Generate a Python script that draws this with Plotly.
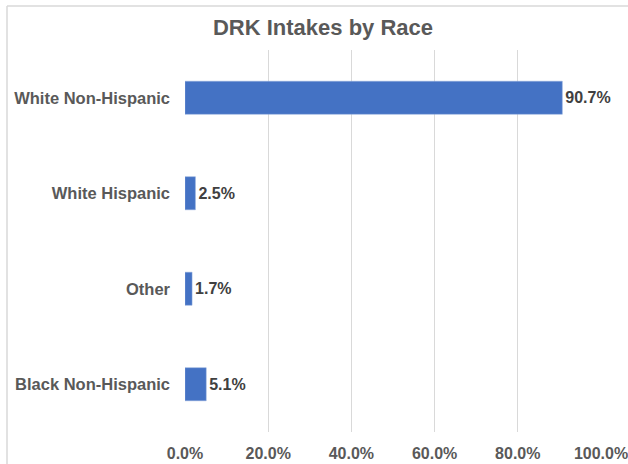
import plotly.graph_objects as go

categories = ["White Non-Hispanic", "White Hispanic", "Other", "Black Non-Hispanic"]
values = [90.7, 2.5, 1.7, 5.1]
tick_vals = [0, 20, 40, 60, 80, 100]
tick_text = ["0.0%", "20.0%", "40.0%", "60.0%", "80.0%", "100.0%"]

FONT = "Liberation Sans"
L, R, T, B = 185, 27, 50, 32
PW, PH = 628 - L - R, 464 - T - B

fig = go.Figure(go.Bar(
    x=values, y=categories, orientation="h",
    marker=dict(color="#4472C4", line=dict(color="#8FAADC", width=0.5)),
    width=0.346,
    text=[f"{v:.1f}%" for v in values], textposition="outside",
    texttemplate="<b>%{x:.1f}%</b>",
    textfont=dict(family=FONT, size=16, color="#404040"),
    cliponaxis=False,
))

fig.update_layout(
    width=628, height=464,
    margin=dict(l=L, r=R, t=T, b=B, autoexpand=False),
    paper_bgcolor="white", plot_bgcolor="white",
    font=dict(family=FONT, color="#595959"),
    title=dict(text="<b>DRK Intakes by Race</b>", x=323 / 628, xref="container", xanchor="center",
               y=1 - 27 / 464, yref="container", yanchor="middle",
               font=dict(size=22, color="#595959", family=FONT)),
    showlegend=False,
    shapes=[
        dict(type="line", xref="paper", yref="paper",
             x0=-(L - 7) / PW, x1=1 + R / PW, y0=1 + (T - 6) / PH, y1=1 + (T - 6) / PH,
             line=dict(color="#D9D9D9", width=1.5)),
        dict(type="line", xref="paper", yref="paper",
             x0=-(L - 7) / PW, x1=-(L - 7) / PW, y0=-B / PH, y1=1 + (T - 6) / PH,
             line=dict(color="#D9D9D9", width=1.5)),
    ],
)
fig.update_xaxes(range=[0, 100], tickvals=tick_vals, ticktext=[f"<b>{t}</b>" for t in tick_text],
                 showgrid=True, gridcolor="#D9D9D9", gridwidth=1, zeroline=False,
                 showline=False, ticks="", ticklabelstandoff=10, automargin=False,
                 ticklabeloverflow="allow",
                 tickfont=dict(size=16, color="#595959", family=FONT))
fig.update_yaxes(autorange="reversed", showgrid=False, zeroline=False, showline=False,
                 ticks="", ticklabelstandoff=14, automargin=False,
                 tickvals=categories, ticktext=[f"<b>{c}</b>" for c in categories],
                 tickfont=dict(size=16.5, color="#595959", family=FONT))

fig.write_html("out.html", config={"displayModeBar": False},
               post_script="document.body.style.margin='0';document.body.style.padding='0';document.body.style.overflow='hidden';")
